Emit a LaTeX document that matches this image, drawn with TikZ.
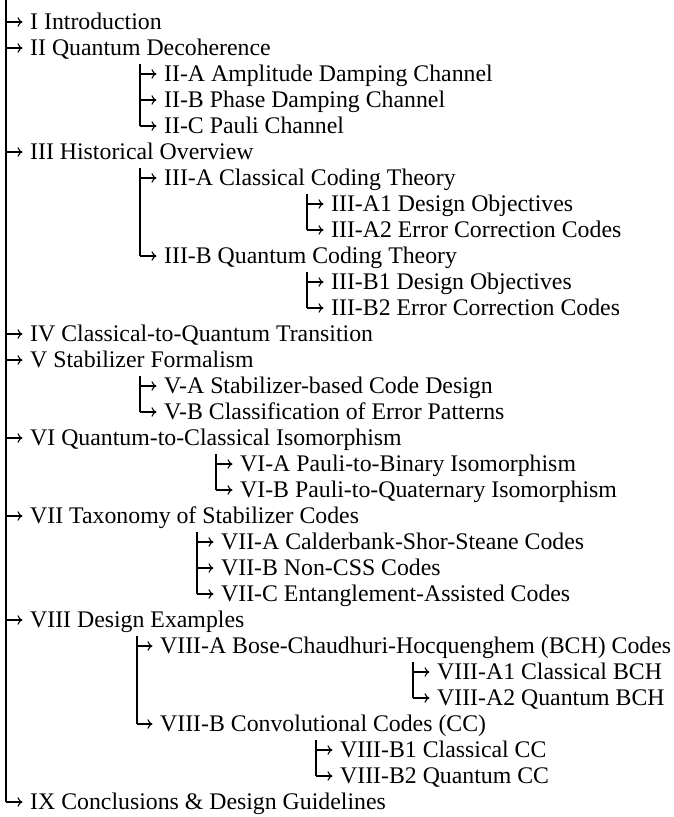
\documentclass[tikz,border=0pt]{standalone}
\usepackage{fontspec}
\setmainfont{Liberation Serif}
\usetikzlibrary{arrows.meta,positioning,calc}

\begin{document}
\begin{tikzpicture}[
  x=1pt, y=-1pt,
  font=\fontsize{23.8}{28}\selectfont,
  item/.style={anchor=west, inner xsep=0pt, inner ysep=0pt, text height=15.5pt, text depth=0pt},
  trunk/.style={line width=1.1pt},
  arr/.style={line width=1.1pt, shorten >=7.5pt, -{To[length=5pt, width=9.5pt]}}
]
\useasboundingbox (0,0) rectangle (674,817);

\coordinate (t0) at (6,0);
\coordinate (t2) at (140,64);
\coordinate (t3) at (140,168);
\coordinate (t3a) at (307,194);
\coordinate (t3b) at (307,272);
\coordinate (t5) at (140,376);
\coordinate (t6) at (216,454);
\coordinate (t7) at (197,532);
\coordinate (t8) at (137,636);
\coordinate (t8a) at (413,662);
\coordinate (t8b) at (316,740);

\node[item] (n1) at (30,22) {I Introduction};
\node[item] (n2) at (30,48) {II Quantum Decoherence};
\node[item] (n2a) at (164,74) {II-A Amplitude Damping Channel};
\node[item] (n2b) at (164,100) {II-B Phase Damping Channel};
\node[item] (n2c) at (164,126) {II-C Pauli Channel};
\node[item] (n3) at (30,152) {III Historical Overview};
\node[item] (n3a) at (164,178) {III-A Classical Coding Theory};
\node[item] (n3a1) at (331,204) {III-A1 Design Objectives};
\node[item] (n3a2) at (331,230) {III-A2 Error Correction Codes};
\node[item] (n3b) at (164,256) {III-B Quantum Coding Theory};
\node[item] (n3b1) at (331,282) {III-B1 Design Objectives};
\node[item] (n3b2) at (331,308) {III-B2 Error Correction Codes};
\node[item] (n4) at (30,334) {IV Classical-to-Quantum Transition};
\node[item] (n5) at (30,360) {V Stabilizer Formalism};
\node[item] (n5a) at (164,386) {V-A Stabilizer-based Code Design};
\node[item] (n5b) at (164,412) {V-B Classification of Error Patterns};
\node[item] (n6) at (30,438) {VI Quantum-to-Classical Isomorphism};
\node[item] (n6a) at (240,464) {VI-A Pauli-to-Binary Isomorphism};
\node[item] (n6b) at (240,490) {VI-B Pauli-to-Quaternary Isomorphism};
\node[item] (n7) at (30,516) {VII Taxonomy of Stabilizer Codes};
\node[item] (n7a) at (221,542) {VII-A Calderbank-Shor-Steane Codes};
\node[item] (n7b) at (221,568) {VII-B Non-CSS Codes};
\node[item] (n7c) at (221,594) {VII-C Entanglement-Assisted Codes};
\node[item] (n8) at (30,620) {VIII Design Examples};
\node[item] (n8a) at (160,646) {VIII-A Bose-Chaudhuri-Hocquenghem (BCH) Codes};
\node[item] (n8a1) at (437,672) {VIII-A1 Classical BCH};
\node[item] (n8a2) at (437,698) {VIII-A2 Quantum BCH};
\node[item] (n8b) at (160,724) {VIII-B Convolutional Codes (CC)};
\node[item] (n8b1) at (340,750) {VIII-B1 Classical CC};
\node[item] (n8b2) at (340,776) {VIII-B2 Quantum CC};
\node[item] (n9) at (30,802) {IX Conclusions \& Design Guidelines};

\draw[trunk] (t0) -- (t0 |- n9);
\draw[trunk] (t2) -- (t2 |- n2c);
\draw[trunk] (t3) -- (t3 |- n3b);
\draw[trunk] (t3a) -- (t3a |- n3a2);
\draw[trunk] (t3b) -- (t3b |- n3b2);
\draw[trunk] (t5) -- (t5 |- n5b);
\draw[trunk] (t6) -- (t6 |- n6b);
\draw[trunk] (t7) -- (t7 |- n7c);
\draw[trunk] (t8) -- (t8 |- n8b);
\draw[trunk] (t8a) -- (t8a |- n8a2);
\draw[trunk] (t8b) -- (t8b |- n8b2);

\foreach \n in {n1,n2,n3,n4,n5,n6,n7,n8,n9}
  \draw[arr] (t0 |- \n) -- (\n);
\foreach \n in {n2a,n2b,n2c}
  \draw[arr] (t2 |- \n) -- (\n);
\foreach \n in {n3a,n3b}
  \draw[arr] (t3 |- \n) -- (\n);
\foreach \n in {n3a1,n3a2}
  \draw[arr] (t3a |- \n) -- (\n);
\foreach \n in {n3b1,n3b2}
  \draw[arr] (t3b |- \n) -- (\n);
\foreach \n in {n5a,n5b}
  \draw[arr] (t5 |- \n) -- (\n);
\foreach \n in {n6a,n6b}
  \draw[arr] (t6 |- \n) -- (\n);
\foreach \n in {n7a,n7b,n7c}
  \draw[arr] (t7 |- \n) -- (\n);
\foreach \n in {n8a,n8b}
  \draw[arr] (t8 |- \n) -- (\n);
\foreach \n in {n8a1,n8a2}
  \draw[arr] (t8a |- \n) -- (\n);
\foreach \n in {n8b1,n8b2}
  \draw[arr] (t8b |- \n) -- (\n);
\end{tikzpicture}
\end{document}
